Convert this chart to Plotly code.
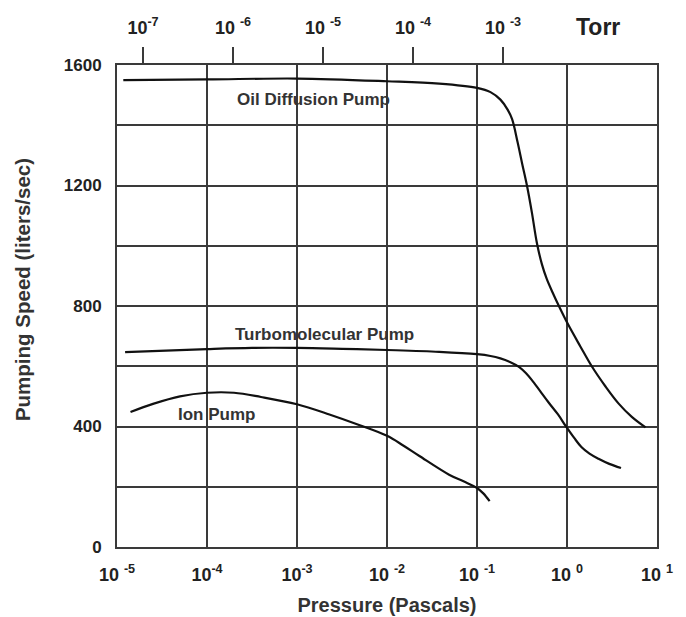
import plotly.graph_objects as go

# Pressure (log10 Pascals) and pumping speed (liters/sec)
oil_logp = [-4.93, -4.0, -3.0, -2.0, -1.42, -1.0, -0.85, -0.74, -0.66, -0.61, -0.55, -0.5, -0.445,
            -0.39, -0.335, -0.28, -0.225, -0.16, -0.09, 0.01, 0.15, 0.275, 0.43, 0.574, 0.72, 0.873]
oil_speed = [1550, 1552, 1555, 1546, 1538, 1524, 1510, 1485, 1452, 1420, 1345, 1275, 1200,
             1110, 1010, 940, 890, 845, 800, 740, 665, 600, 532, 476, 432, 397]

turbo_logp = [-4.91, -4.0, -3.5, -3.0, -2.5, -2.0, -1.42, -1.0, -0.85, -0.74, -0.64, -0.53, -0.45,
              -0.39, -0.3, -0.2, -0.1, -0.015, 0.08, 0.16, 0.25, 0.35, 0.47, 0.6]
turbo_speed = [647, 657, 661, 661, 658, 654, 648, 640, 634, 626, 615, 597, 575,
               554, 518, 478, 440, 402, 362, 332, 310, 293, 276, 262]

ion_logp = [-4.85, -4.6, -4.3, -4.0, -3.7, -3.4, -3.0, -2.64, -2.31, -2.0, -1.82, -1.64, -1.31,
            -1.15, -1.0, -0.93, -0.86]
ion_speed = [448, 475, 500, 512, 512, 498, 474, 440, 405, 369, 337, 302, 240,
             218, 196, 178, 152]

pa_ticks = [1e-5, 1e-4, 1e-3, 1e-2, 1e-1, 1e0, 1e1]
pa_labels = ["10 <sup>-5</sup>", "10<sup>-4</sup>", "10<sup>-3</sup>", "10 <sup>-2</sup>",
             "10 <sup>-1</sup>", "10 <sup>0</sup>", "10 <sup>1</sup>"]
torr_ticks = [1e-7, 1e-6, 1e-5, 1e-4, 1e-3]
torr_labels = ["10<sup>-7</sup>", "10 <sup>-6</sup>", "10 <sup>-5</sup>", "10 <sup>-4</sup>", "10 <sup>-3</sup>"]
speed_ticks = [0, 400, 800, 1200, 1600]

labels = ["Oil Diffusion Pump", "Turbomolecular Pump", "Ion Pump"]
label_logp = [-2.815, -2.69, -3.89]
label_speed = [1484, 704, 441]

FONT = "Liberation Sans"
GRID = "#3a3a3a"

fig = go.Figure()
for lp, sp in [(oil_logp, oil_speed), (turbo_logp, turbo_speed), (ion_logp, ion_speed)]:
    fig.add_trace(go.Scatter(x=[10 ** v for v in lp], y=sp, mode="lines",
                             line=dict(color="#111111", width=2.2, shape="spline", smoothing=1.0),
                             showlegend=False, hoverinfo="skip"))
# invisible trace to anchor the Torr axis
fig.add_trace(go.Scatter(x=[1e-6], y=[0], xaxis="x2", mode="markers",
                         marker=dict(opacity=0), showlegend=False, hoverinfo="skip"))

fig.update_layout(
    width=686, height=617,
    margin=dict(l=109, r=37, t=57, b=78, autoexpand=False),
    paper_bgcolor="white", plot_bgcolor="white",
    font=dict(family=FONT, color="#222222"),
    xaxis=dict(type="log", range=[-5, 1], tickvals=pa_ticks, ticktext=pa_labels,
               automargin=False,
               showgrid=True, gridcolor=GRID, gridwidth=2,
               showline=True, linecolor=GRID, linewidth=2, mirror=True,
               ticks="", ticklabelstandoff=10,
               tickfont=dict(size=18, family=FONT, weight="bold", color="#222"),
               title=dict(text="Pressure (Pascals)", standoff=14,
                          font=dict(size=20, family=FONT, weight="bold", color="#333")),
               zeroline=False),
    xaxis2=dict(type="log", range=[-7.289, -1.289], overlaying="x", side="top",
                automargin=False,
                tickvals=torr_ticks, ticktext=torr_labels, showgrid=False,
                ticks="outside", ticklen=17, tickwidth=1.5, tickcolor=GRID,
                ticklabelstandoff=6,
                tickfont=dict(size=18, family=FONT, weight="bold", color="#222"),
                showline=False, zeroline=False),
    yaxis=dict(range=[0, 1600], tickvals=speed_ticks, automargin=False,
               showgrid=True, gridcolor=GRID, gridwidth=2,
               showline=True, linecolor=GRID, linewidth=2, mirror=True,
               ticks="", ticklabelstandoff=10,
               tickfont=dict(size=17, family=FONT, weight="bold", color="#222"),
               zeroline=False),
)
fig.update_yaxes(minor=dict(dtick=200, showgrid=True, gridcolor=GRID, gridwidth=2, ticks=""))

for t, lx, ly in zip(labels, label_logp, label_speed):
    fig.add_annotation(x=lx, y=ly, text=t, showarrow=False,
                       font=dict(size=17, family=FONT, weight="bold", color="#333"))
fig.add_annotation(xref="paper", yref="paper", x=0.935, y=1.0, yshift=38, yanchor="middle",
                   text="Torr", showarrow=False, xanchor="right",
                   font=dict(size=23, family=FONT, weight="bold", color="#222"))
# y-axis title (placed as rotated text, slightly above the plot's vertical centre as in the reference)
fig.add_annotation(xref="paper", yref="paper", x=-0.176, y=0.535, textangle=-90,
                   text="Pumping Speed (liters/sec)", showarrow=False,
                   xanchor="center", yanchor="middle",
                   font=dict(size=20.5, family=FONT, weight="bold", color="#333"))

fig.write_html("out.html")
